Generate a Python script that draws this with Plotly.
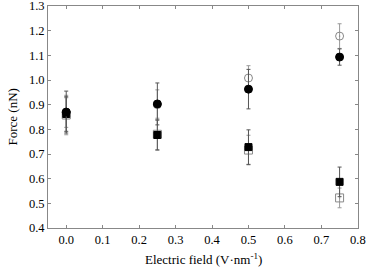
import plotly.graph_objects as go

field = [0.0, 0.25, 0.5, 0.75]
force_filled_circle = [0.870, 0.903, 0.963, 1.093]
err_filled_circle = [0.085, 0.085, 0.080, 0.033]
force_open_circle = [0.868, 0.900, 1.008, 1.178]
err_open_circle = [0.06, 0.06, 0.05, 0.05]
force_filled_square = [0.862, 0.777, 0.728, 0.587]
err_filled_square = [0.07, 0.06, 0.07, 0.06]
force_open_square = [0.858, 0.780, 0.716, 0.522]
err_open_square = [0.08, 0.065, 0.06, 0.04]
x_ticks = [0.0, 0.1, 0.2, 0.3, 0.4, 0.5, 0.6, 0.7, 0.8]
y_ticks = [0.4, 0.5, 0.6, 0.7, 0.8, 0.9, 1.0, 1.1, 1.2, 1.3]
x_title = "Electric field (V·nm<sup>-1</sup>)"
y_title = "Force (nN)"

SERIF = "Liberation Serif, Times New Roman, serif"

fig = go.Figure()

def add(y, e, symbol, color, size, ecolor):
    fig.add_trace(go.Scatter(
        x=field, y=y, mode="markers",
        marker=dict(symbol=symbol, color=color, size=size,
                    line=dict(color=color, width=1)),
        error_y=dict(type="data", array=e, visible=True, color=ecolor,
                     thickness=1, width=2),
        showlegend=False))

add(force_open_circle, err_open_circle, "circle-open-dot", "#888888", 8, "#999999")
add(force_open_square, err_open_square, "square-open-dot", "#888888", 8, "#999999")
add(force_filled_square, err_filled_square, "square", "black", 7, "#555555")
add(force_filled_circle, err_filled_circle, "circle", "black", 8, "#555555")

axis_common = dict(
    showline=True, linecolor="#888888", linewidth=1, mirror="ticks",
    ticks="inside", ticklen=3, tickcolor="#888888", showgrid=False,
    zeroline=False, automargin=False, ticklabeloverflow="allow",
    tickfont=dict(family=SERIF, size=12.5, color="black"))

fig.update_xaxes(range=[-0.05, 0.8005], tickvals=x_ticks,
                 ticktext=[f"{v:.1f}" for v in x_ticks], **axis_common)
fig.update_yaxes(range=[0.4, 1.3], tickvals=y_ticks,
                 ticktext=[f"{v:.1f}" for v in y_ticks], **axis_common)

fig.add_annotation(text=x_title, xref="paper", yref="paper", x=0.5, y=0,
                   yshift=-21, xanchor="center", yanchor="top", showarrow=False,
                   font=dict(family=SERIF, size=13, color="black"))
fig.add_annotation(text=y_title, xref="paper", yref="paper", x=0, y=0.5,
                   xshift=-46, xanchor="left", yanchor="middle", textangle=-90,
                   showarrow=False, font=dict(family=SERIF, size=13, color="black"))

fig.update_layout(width=367, height=272, margin=dict(l=48, r=9, t=6, b=44),
                  font=dict(family=SERIF, color="black"),
                  plot_bgcolor="white", paper_bgcolor="white")

fig.write_html("out.html", config={"displayModeBar": False},
               post_script="document.body.style.margin='0';document.body.style.overflow='hidden';")
